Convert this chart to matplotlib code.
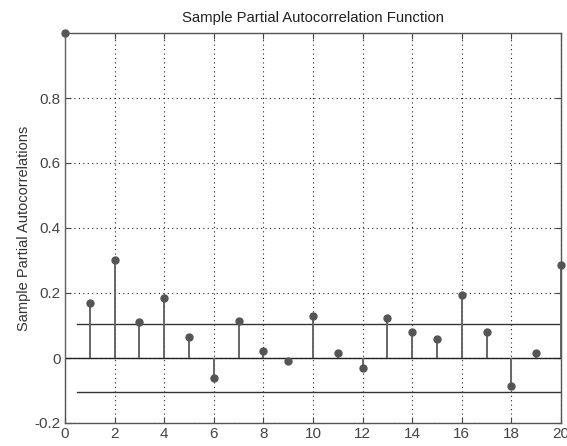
import matplotlib
matplotlib.use("Agg")
import matplotlib.pyplot as plt
import numpy as np

lags = list(range(0, 21))
pacf = [1.0, 0.169, 0.302, 0.110, 0.186, 0.066, -0.060, 0.113, 0.022, -0.010,
        0.130, 0.014, -0.031, 0.123, 0.081, 0.060, 0.194, 0.081, -0.087, 0.014, 0.285]
bound = 0.104
xticks = list(range(0, 21, 2))
yticks = [-0.2, 0, 0.2, 0.4, 0.6, 0.8]
ytick_labels = ["-0.2", "0", "0.2", "0.4", "0.6", "0.8"]

plt.rcParams['font.family'] = ['Liberation Sans', 'DejaVu Sans']
fig = plt.figure(figsize=(5.67, 4.46), dpi=100)
ax = fig.add_axes([65/567, 1-423/446, (561-65)/567, (423-33)/446])

ax.set_xlim(0, 20)
ax.set_ylim(-0.2, 1.0)

# zero line and bounds
ax.plot([0, 20], [0, 0], color='#222222', lw=1.0, zorder=2)
ax.plot([0.5, 20], [bound, bound], color='#333333', lw=1.0, zorder=2)
ax.plot([0.5, 20], [-bound, -bound], color='#333333', lw=1.0, zorder=2)

ax.vlines(lags, 0, pacf, color='#666666', lw=1.4, zorder=3)
ax.plot(lags, pacf, 'o', color='#555555', ms=5, zorder=4, clip_on=False)

ax.set_xticks(xticks)
ax.set_yticks(yticks)
ax.set_yticklabels(ytick_labels)
ax.grid(True, linestyle=(0, (1, 3)), color='#222222', lw=0.8)
ax.tick_params(direction='in', top=True, right=True, labelsize=11, colors='#444444',
               length=4, labelcolor='#444444', pad=3)
for s in ax.spines.values():
    s.set_color('#555555')
    s.set_linewidth(1.0)

ax.set_title('Sample Partial Autocorrelation Function', fontsize=10.7, color='#222222', pad=8)
ax.set_ylabel('Sample Partial Autocorrelations', fontsize=10.5, color='#333333', labelpad=3)

fig.savefig('out.png', dpi=100)
